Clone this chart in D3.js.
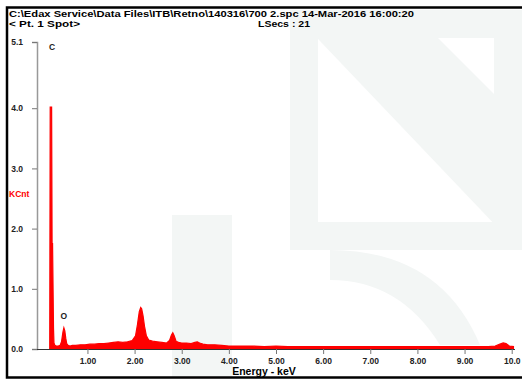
<!DOCTYPE html>
<html>
<head>
<meta charset="utf-8">
<script src="https://cdn.jsdelivr.net/npm/d3@7"></script>
<style>
  body { margin: 0; background: #fff; }
  svg text { font-family: "Liberation Sans", Arial, sans-serif; font-weight: bold; }
</style>
</head>
<body>
<div id="chart"></div>
<script>
// spectrum (energy in keV, counts in KCnt)
const spectrumKeV = [0.20, 0.21, 0.24, 0.25, 0.26, 0.28, 0.29, 0.31, 0.34, 0.38, 0.42, 0.45, 0.48, 0.50, 0.52, 0.54, 0.56, 0.59, 0.63, 0.68,
  0.75, 0.85, 0.95, 1.05, 1.15, 1.25, 1.35, 1.45, 1.55, 1.65, 1.75, 1.85, 1.95, 2.02, 2.06, 2.10, 2.13, 2.15, 2.18, 2.21, 2.25,
  2.30, 2.38, 2.48, 2.58, 2.68, 2.74, 2.78, 2.81, 2.84, 2.88, 2.93, 3.00, 3.10, 3.20, 3.28, 3.33, 3.38, 3.45, 3.55, 3.70, 3.85,
  4.00, 4.25, 4.50, 4.75, 5.00, 5.25, 5.50, 5.75, 6.00, 6.25, 6.50, 6.75, 7.00, 7.25, 7.50, 7.75, 8.00, 8.25, 8.50, 8.75, 9.00,
  9.25, 9.50, 9.65, 9.75, 9.82, 9.88, 9.95, 10.05];
const spectrumKCnt = [0.00, 4.02, 4.02, 1.75, 1.75, 0.35, 0.10, 0.06, 0.05, 0.05, 0.06, 0.12, 0.28, 0.35, 0.30, 0.18, 0.09, 0.06, 0.05, 0.06,
  0.06, 0.07, 0.07, 0.08, 0.08, 0.09, 0.09, 0.10, 0.11, 0.12, 0.11, 0.12, 0.14, 0.22, 0.40, 0.62, 0.69, 0.67, 0.55, 0.38, 0.22,
  0.15, 0.13, 0.12, 0.11, 0.10, 0.14, 0.23, 0.27, 0.22, 0.13, 0.11, 0.10, 0.10, 0.09, 0.11, 0.12, 0.10, 0.08, 0.07, 0.07, 0.06,
  0.05, 0.05, 0.05, 0.04, 0.05, 0.04, 0.04, 0.04, 0.04, 0.04, 0.04, 0.04, 0.04, 0.04, 0.04, 0.04, 0.04, 0.04, 0.04, 0.04, 0.04,
  0.04, 0.04, 0.05, 0.08, 0.10, 0.09, 0.05, 0.04];

// element markers
const peakNames = ["C", "O"];
const peakKeV = [0.25, 0.50];
const peakLabelKCnt = [5.02, 0.55];

// axis ticks
const yTickValues = [0, 1, 2, 3, 4, 5.1];
const yTickLabels = ["0.0", "1.0", "2.0", "3.0", "4.0", "5.1"];
const xTickValues = [1, 2, 3, 4, 5, 6, 7, 8, 9, 10];
const xTickLabels = ["1.00", "2.00", "3.00", "4.00", "5.00", "6.00", "7.00", "8.00", "9.00", "10.0"];

const headerLine1 = "C:\\Edax Service\\Data Files\\ITB\\Retno\\140316\\700 2.spc  14-Mar-2016 16:00:20";
const headerLine2 = "< Pt. 1 Spot>";
const headerLive = "LSecs : 21";

const width = 522, height = 381;

const svg = d3.select("#chart").append("svg")
  .attr("width", width)
  .attr("height", height);

// faint watermark in the background
const wm = "#f3f6f5";
const water = svg.append("g").attr("class", "watermark");
water.append("rect").attr("x", 172).attr("y", 215).attr("width", 60).attr("height", 162).attr("fill", wm);
water.append("path").attr("fill", wm)
  .attr("d", "M290,250 L522,250 L522,10 L290,10 Z M318,38 L494,38 L494,222 L318,222 Z")
  .attr("fill-rule", "evenodd");
water.append("path").attr("fill", wm)
  .attr("d", "M300,20 L420,20 L500,100 L500,230 Z");
water.append("path").attr("fill", wm)
  .attr("d", "M330,250 Q440,250 480,345 L440,345 Q400,280 330,280 Z");

// outer frame
svg.append("rect")
  .attr("x", 7).attr("y", 7.5)
  .attr("width", 530).attr("height", 370)
  .attr("fill", "none")
  .attr("stroke", "#000")
  .attr("stroke-width", 2.5);

// header text
svg.append("text").attr("x", 9).attr("y", 16.5).attr("font-size", 9)
  .attr("textLength", 405).attr("lengthAdjust", "spacingAndGlyphs").text(headerLine1);
svg.append("text").attr("x", 9).attr("y", 27).attr("font-size", 9)
  .attr("textLength", 71).attr("lengthAdjust", "spacingAndGlyphs").text(headerLine2);
svg.append("text").attr("x", 258).attr("y", 27).attr("font-size", 9)
  .attr("textLength", 52).attr("lengthAdjust", "spacingAndGlyphs").text(headerLive);

const xScale = d3.scaleLinear().domain([0, 10]).range([40.3, 511.7]);
const yScale = d3.scaleLinear().domain([0, 5.1]).range([349, 42]);

// spectrum
const pts = spectrumKeV.map((e, i) => ({ e: e, c: spectrumKCnt[i] }));
const area = d3.area()
  .x(d => xScale(d.e))
  .y0(yScale(0))
  .y1(d => yScale(d.c));
const line = d3.line()
  .x(d => xScale(d.e))
  .y(d => yScale(d.c));

svg.append("path").datum(pts)
  .attr("d", area)
  .attr("fill", "#ff0000");
svg.append("path").datum(pts)
  .attr("d", line)
  .attr("fill", "none")
  .attr("stroke", "#ff0000")
  .attr("stroke-width", 1.2);

// y axis
const yAxis = svg.append("g")
  .attr("transform", "translate(37,0)")
  .call(d3.axisLeft(yScale)
    .tickValues(yTickValues)
    .tickFormat((d, i) => yTickLabels[i])
    .tickSize(5)
    .tickPadding(9));
yAxis.select(".domain").attr("stroke", "#999").attr("stroke-width", 1.5);
yAxis.selectAll(".tick line").attr("stroke", "#777");
yAxis.selectAll(".tick text").attr("font-size", 8.5).attr("fill", "#222");

// x axis
const xAxis = svg.append("g")
  .attr("transform", "translate(0," + yScale(0) + ")")
  .call(d3.axisBottom(xScale)
    .tickValues(xTickValues)
    .tickFormat((d, i) => xTickLabels[i])
    .tickSizeInner(5)
    .tickSizeOuter(0)
    .tickPadding(4));
xAxis.select(".domain").attr("d", "M37,0.5H515").attr("stroke", "#333").attr("stroke-width", 1.2);
xAxis.selectAll(".tick line").attr("stroke", "#777");
xAxis.selectAll(".tick text").attr("font-size", 8.5).attr("fill", "#222");

// axis titles
svg.append("text")
  .attr("x", 9).attr("y", 197)
  .attr("font-size", 8.5)
  .attr("fill", "#ff0000")
  .text("KCnt");
svg.append("text")
  .attr("x", 264).attr("y", 375)
  .attr("text-anchor", "middle")
  .attr("font-size", 10.5)
  .text("Energy - keV");

// element labels
svg.selectAll(".peak-label")
  .data(peakNames)
  .enter().append("text")
  .attr("class", "peak-label")
  .attr("x", (d, i) => xScale(peakKeV[i]))
  .attr("y", (d, i) => yScale(peakLabelKCnt[i]))
  .attr("text-anchor", "middle")
  .attr("dy", "0.35em")
  .attr("font-size", 8.5)
  .attr("fill", "#222")
  .text(d => d);
</script>
</body>
</html>
